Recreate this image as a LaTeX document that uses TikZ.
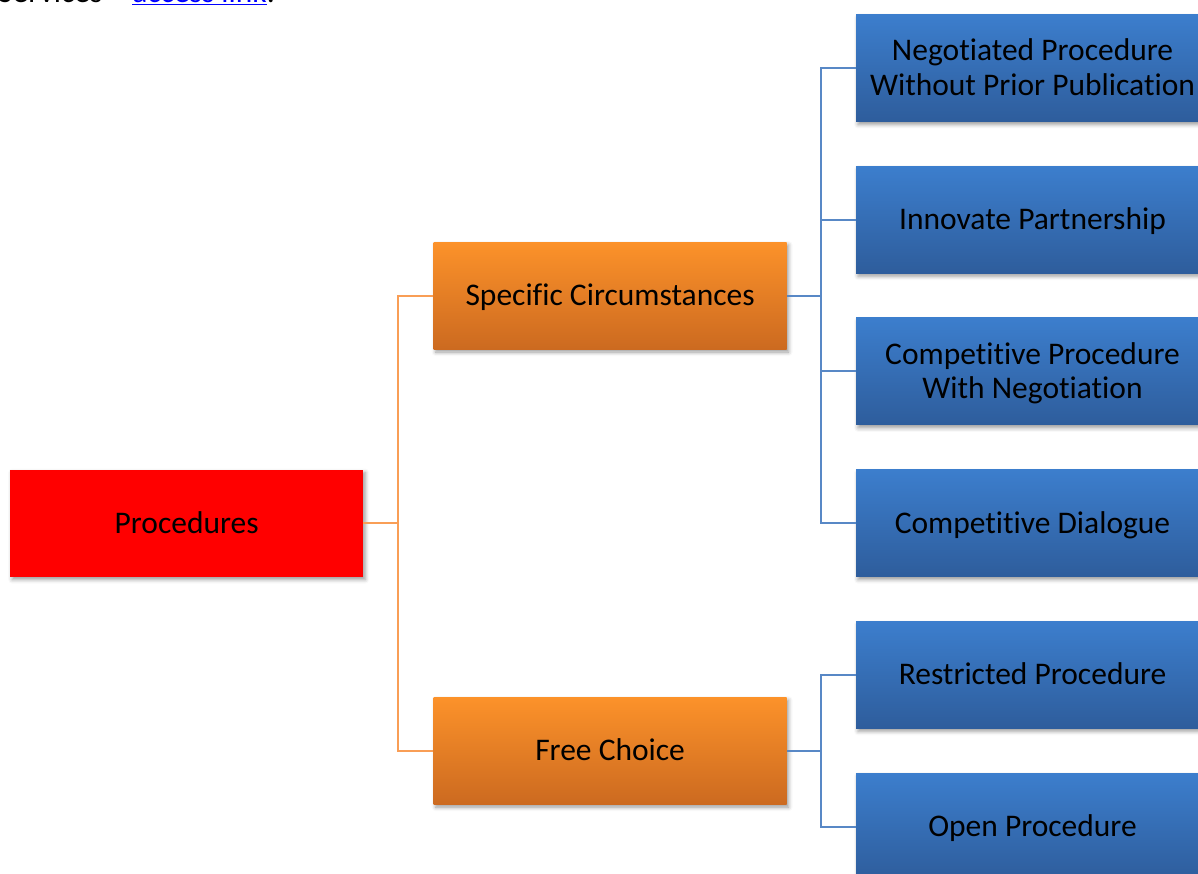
\documentclass[tikz,border=0pt]{standalone}
\usepackage{fontspec}
\setmainfont{Carlito}[Ligatures=NoCommon]
\usepackage{tikz}
\usetikzlibrary{positioning, calc, shadows.blur}
\definecolor{procRed}{RGB}{255,0,0}
\definecolor{orangeTop}{RGB}{252,146,42}
\definecolor{orangeBottom}{RGB}{204,106,32}
\definecolor{blueTop}{RGB}{60,126,205}
\definecolor{blueBottom}{RGB}{46,93,156}
\definecolor{orangeLine}{RGB}{249,158,86}
\definecolor{blueLine}{RGB}{88,136,198}
\definecolor{linkBlue}{RGB}{0,0,255}

\begin{document}
\begin{tikzpicture}[x=1pt, y=-1pt, node distance=44.3pt, font=\fontsize{31.5}{34.3}\selectfont]
  \tikzstyle{box} = [rectangle, text centered, minimum width=353pt, minimum height=107pt, inner sep=0pt, text height=20pt, text depth=0pt, blur shadow={shadow xshift=2pt, shadow yshift=-3pt, shadow blur radius=4pt, shadow opacity=40}]
  \tikzstyle{rootbox} = [box, fill=procRed]
  \tikzstyle{groupbox} = [box, top color=orangeTop, bottom color=orangeBottom]
  \tikzstyle{leafbox} = [box, top color=blueTop, bottom color=blueBottom]
  \tikzstyle{twolines} = [align=center, text height=54.3pt, text depth=0pt]
  \tikzstyle{orangeline} = [draw=orangeLine, line width=2pt]
  \tikzstyle{blueline} = [draw=blueLine, line width=2pt]
  \useasboundingbox (0,0) rectangle (1198,874);
  \node [anchor=base west, inner sep=0pt] (header) at (-2,2.5) {Services – \textcolor{linkBlue}{\underline{access link}}.};
  % right column
  \node [leafbox, twolines] (negotiated) at (1032.5,68) {Negotiated Procedure\\Without Prior Publication};
  \node [leafbox, below=of negotiated] (innovate) {Innovate Partnership};
  \node [leafbox, twolines, below=of innovate] (competitiveNeg) {Competitive Procedure\\With Negotiation};
  \node [leafbox, below=of competitiveNeg] (dialogue) {Competitive Dialogue};
  \node [leafbox, below=of dialogue] (restricted) {Restricted Procedure};
  \node [leafbox, below=of restricted] (open) {Open Procedure};
  % middle column
  \coordinate (specMid) at ($(negotiated.west)!.5!(dialogue.west)$);
  \coordinate (freeMid) at ($(restricted.west)!.5!(open.west)$);
  \node [groupbox, left=69pt of specMid] (specific) {Specific Circumstances};
  \node [groupbox, left=69pt of freeMid] (freeChoice) {Free Choice};
  % root
  \coordinate (rootMid) at ($(specific.west)!.5!(freeChoice.west)$);
  \node [rootbox, left=70pt of rootMid] (procedures) {Procedures};
  % connectors
  \path [orangeline] (procedures.east) -- ++(35,0) coordinate (orangeBus) |- (specific.west);
  \path [orangeline] (orangeBus) |- (freeChoice.west);
  \path [blueline] (specific.east) -- ++(34,0) coordinate (specBus) |- (negotiated.west);
  \path [blueline] (specBus) |- (innovate.west);
  \path [blueline] (specBus) |- (competitiveNeg.west);
  \path [blueline] (specBus) |- (dialogue.west);
  \path [blueline] (freeChoice.east) -- ++(34,0) coordinate (freeBus) |- (restricted.west);
  \path [blueline] (freeBus) |- (open.west);
\end{tikzpicture}
\end{document}
